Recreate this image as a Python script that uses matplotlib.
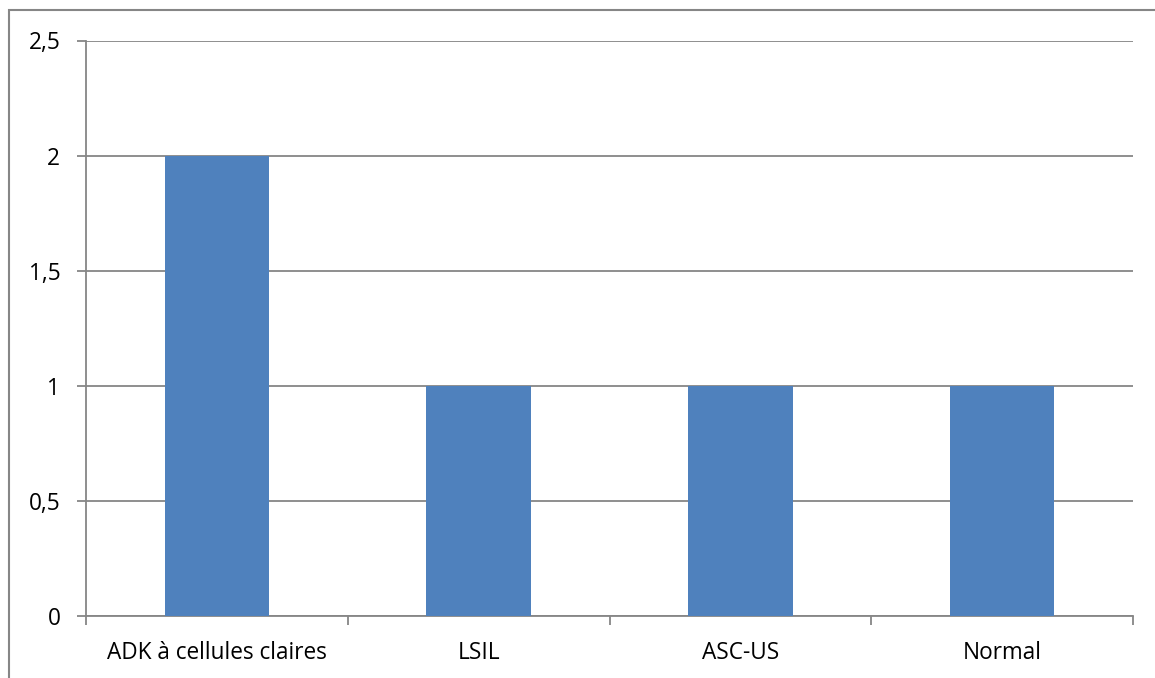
import matplotlib
matplotlib.use("Agg")
import matplotlib.pyplot as plt
from matplotlib.patches import Rectangle
import numpy as np

categories = ["ADK à cellules claires", "LSIL", "ASC-US", "Normal"]
counts = [2, 1, 1, 1]
yticks = [0, 0.5, 1, 1.5, 2, 2.5]
ytick_labels = ["0", "0,5", "1", "1,5", "2", "2,5"]

plt.rcParams['font.family'] = ['Open Sans', 'DejaVu Sans']
grey = '#868686'
blue = '#4F81BD'

fig = plt.figure(figsize=(11.55, 6.78), dpi=100)
ax = fig.add_axes([86 / 1155, 1 - 615.7 / 678, (1133 - 86) / 1155, (615.7 - 40.5) / 678])

x = np.arange(len(categories))
ax.bar(x, counts, width=0.4, color=blue, zorder=3)

ax.set_xlim(-0.5, len(categories) - 0.5)
ax.set_ylim(0, 2.5)
ax.set_yticks(yticks)
ax.set_yticklabels(ytick_labels, fontsize=16.3)
ax.yaxis.grid(True, color=grey, linewidth=1.3, zorder=0)

# category boundaries carry the tick marks, labels sit in between
ax.set_xticks(np.arange(len(categories) + 1) - 0.5)
ax.set_xticklabels([])
ax.set_xticks(x, minor=True)
ax.set_xticklabels(categories, minor=True, fontsize=16.3)
ax.tick_params(axis='x', which='minor', length=0, pad=18)
ax.tick_params(axis='x', which='major', length=6.5, width=1.3, color=grey)
ax.tick_params(axis='y', length=6.5, width=1.3, color=grey, pad=12)

for side in ['top', 'right']:
    ax.spines[side].set_visible(False)
for side in ['left', 'bottom']:
    ax.spines[side].set_color(grey)
    ax.spines[side].set_linewidth(1.3)

# chart area frame
fig.patches.append(Rectangle((9 / 1155, -0.1), 1.2, 1.1 - 10.5 / 678,
                             transform=fig.transFigure, fill=False,
                             edgecolor=grey, linewidth=1.5))

fig.savefig("out.png", dpi=100)
